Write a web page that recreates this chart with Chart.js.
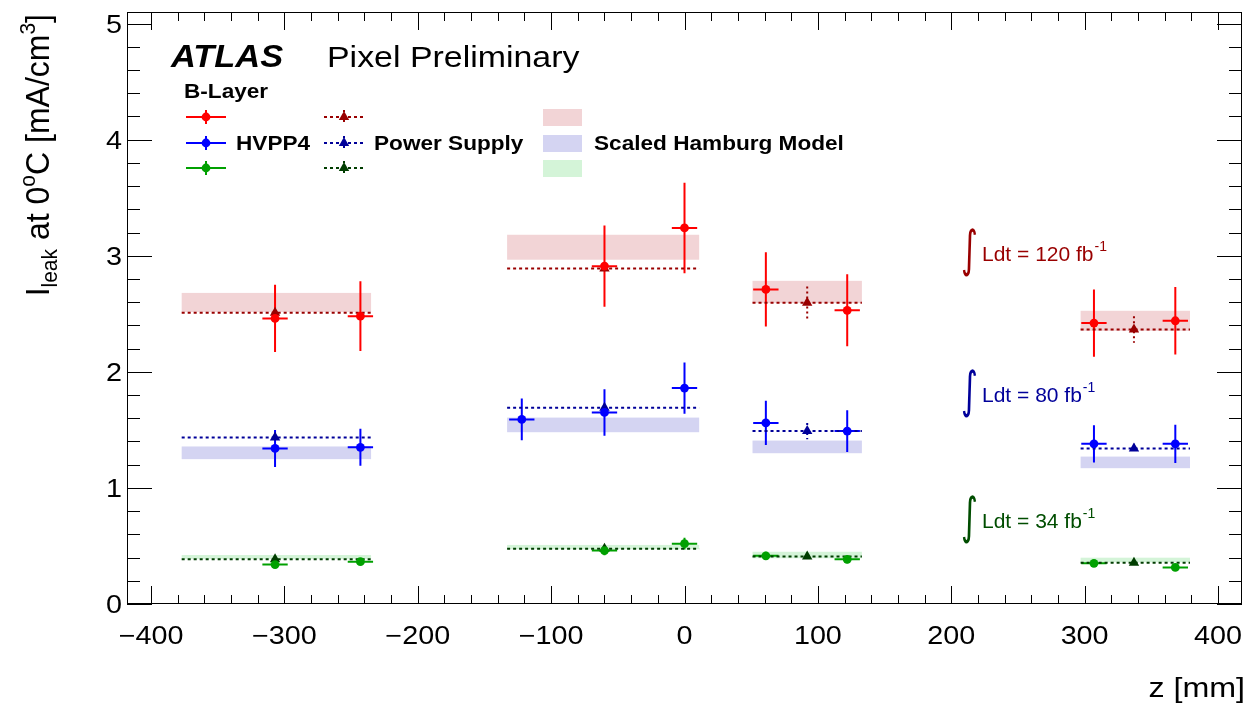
<!DOCTYPE html>
<html><head><meta charset="utf-8">
<script src="https://cdn.jsdelivr.net/npm/chart.js@4.4.1/dist/chart.umd.min.js"></script>
<style>html,body{margin:0;padding:0;background:#fff;}canvas{display:block;}</style>
</head><body>
<canvas id="c" width="1248" height="704"></canvas>
<script>
// ---------- axis ticks ----------
const xTicks = [-400,-300,-200,-100,0,100,200,300,400];
const xTickLabels = ['\u2212400','\u2212300','\u2212200','\u2212100','0','100','200','300','400'];
const yTicks = [0,1,2,3,4,5];
const yTickLabels = ['0','1','2','3','4','5'];

// ---------- module z ranges (mm) ----------
const moduleZMin = [-377,-133,51,297];
const moduleZMax = [-235,11,133,379];

// ---------- HVPP4 measurements ----------
const redZ   = [-307,-243,-60,0,61,122,307,368];
const redY   = [2.46,2.48,2.91,3.24,2.71,2.53,2.42,2.44];
const redErr = [0.29,0.30,0.35,0.39,0.32,0.31,0.29,0.29];
const blueZ   = [-307,-243,-122,-60,0,61,122,307,368];
const blueY   = [1.34,1.35,1.59,1.65,1.86,1.56,1.49,1.38,1.38];
const blueErr = [0.16,0.16,0.18,0.20,0.22,0.19,0.18,0.16,0.165];
const greenZ   = [-307,-243,-60,0,61,122,307,368];
const greenY   = [0.34,0.365,0.46,0.52,0.415,0.385,0.35,0.315];
const greenErr = [0.03,0.03,0.04,0.05,0.035,0.035,0.03,0.03];
const zErr = 9.5;

// ---------- Power Supply ----------
const psZ = [-307,-60,92,337];
const psRedY   = [2.51,2.89,2.595,2.365];
const psRedErr = [0,0,0.14,0.115];
const psBlueY   = [1.435,1.69,1.49,1.34];
const psBlueErr = [0,0,0.07,0.04];
const psGreenY   = [0.385,0.475,0.41,0.355];
const psGreenErr = [0,0,0,0];

// ---------- Scaled Hamburg Model bands ----------
const hamRedLo   = [2.515,2.966,2.592,2.353];
const hamRedHi   = [2.68,3.181,2.784,2.526];
const hamBlueLo  = [1.248,1.48,1.299,1.17];
const hamBlueHi  = [1.357,1.606,1.408,1.27];
const hamGreenLo = [0.388,0.472,0.394,0.359];
const hamGreenHi = [0.422,0.509,0.45,0.399];

// ---------- styles ----------
const C_RED='#ff0000', C_BLUE='#0000ff', C_GREEN='#00a000';
const C_DRED='#990000', C_DBLUE='#000099', C_DGREEN='#003d00';
const B_RED='#f2d4d6', B_BLUE='#d4d4f2', B_GREEN='#d4f4d8';
const FONT='"Liberation Sans", Arial, Helvetica, sans-serif';
const SX = 1.13;

const pts = (z,y)=>z.map((v,i)=>({x:v,y:y[i]}));
const segs = (y)=>{const d=[];y.forEach((v,i)=>{d.push({x:moduleZMin[i],y:v},{x:moduleZMax[i],y:v},{x:moduleZMax[i],y:null});});return d;};

const layers = [
  {z:redZ,y:redY,e:redErr,c:C_RED,ps:psRedY,pse:psRedErr,dc:C_DRED,lo:hamRedLo,hi:hamRedHi,bc:B_RED},
  {z:blueZ,y:blueY,e:blueErr,c:C_BLUE,ps:psBlueY,pse:psBlueErr,dc:C_DBLUE,lo:hamBlueLo,hi:hamBlueHi,bc:B_BLUE},
  {z:greenZ,y:greenY,e:greenErr,c:C_GREEN,ps:psGreenY,pse:psGreenErr,dc:C_DGREEN,lo:hamGreenLo,hi:hamGreenHi,bc:B_GREEN}
];

const datasets = [];
layers.forEach(L=>{
  datasets.push({type:'scatter',data:pts(L.z,L.y),pointStyle:'circle',pointRadius:4.4,backgroundColor:L.c,borderColor:L.c,borderWidth:0});
});
layers.forEach(L=>{
  datasets.push({type:'scatter',data:pts(psZ,L.ps),pointStyle:'triangle',pointRadius:6,backgroundColor:L.dc,borderColor:L.dc,borderWidth:0});
});
layers.forEach(L=>{
  datasets.push({type:'line',data:segs(L.ps),borderColor:L.dc,borderWidth:2,borderDash:[3,3],pointRadius:0,spanGaps:false,fill:false});
});

function txt(ctx,s,x,y,font,color,align,sx){
  ctx.save();ctx.translate(x,y);ctx.scale(sx||SX,1);
  ctx.font=font;ctx.fillStyle=color;ctx.textAlign=align||'left';ctx.textBaseline='alphabetic';
  ctx.fillText(s,0,0);ctx.restore();
}
function tw(ctx,s,font){ctx.save();ctx.font=font;const w=ctx.measureText(s).width;ctx.restore();return w;}

const custom = {
  id:'custom',
  beforeDatasetsDraw(chart){
    const ctx=chart.ctx, xs=chart.scales.x, ys=chart.scales.y;
    ctx.save();
    // bands
    layers.forEach(L=>{
      ctx.fillStyle=L.bc;
      L.lo.forEach((lo,i)=>{
        const x0=xs.getPixelForValue(moduleZMin[i]), x1=xs.getPixelForValue(moduleZMax[i]);
        const y0=ys.getPixelForValue(L.hi[i]), y1=ys.getPixelForValue(lo);
        ctx.fillRect(x0,y0,x1-x0,y1-y0);
      });
    });
    // error bars
    ctx.lineWidth=2;
    layers.forEach(L=>{
      ctx.strokeStyle=L.c;ctx.setLineDash([]);
      L.z.forEach((z,i)=>{
        const px=xs.getPixelForValue(z), py=ys.getPixelForValue(L.y[i]);
        ctx.beginPath();
        ctx.moveTo(px,ys.getPixelForValue(L.y[i]+L.e[i]));ctx.lineTo(px,ys.getPixelForValue(L.y[i]-L.e[i]));
        ctx.moveTo(xs.getPixelForValue(z-zErr),py);ctx.lineTo(xs.getPixelForValue(z+zErr),py);
        ctx.stroke();
      });
      ctx.strokeStyle=L.dc;ctx.setLineDash([2,3]);
      psZ.forEach((z,i)=>{
        if(!L.pse[i])return;
        const px=xs.getPixelForValue(z);
        ctx.beginPath();
        ctx.moveTo(px,ys.getPixelForValue(L.ps[i]+L.pse[i]));ctx.lineTo(px,ys.getPixelForValue(L.ps[i]-L.pse[i]));
        ctx.stroke();
      });
    });
    ctx.restore();
  },
  afterDatasetsDraw(chart){
    const ctx=chart.ctx, xs=chart.scales.x, ys=chart.scales.y, a=chart.chartArea;
    ctx.save();
    // frame
    ctx.strokeStyle='#000';ctx.lineWidth=1;ctx.setLineDash([]);
    ctx.strokeRect(a.left+0.5,a.top+0.5,a.right-a.left-1,a.bottom-a.top-1);
    // ticks
    ctx.beginPath();
    for(let v=-420; v<=420; v+=20){
      if(v<xs.min||v>xs.max)continue;
      const px=Math.round(xs.getPixelForValue(v))+0.5;
      const len=(v%100===0)?18:9;
      ctx.moveTo(px,a.bottom);ctx.lineTo(px,a.bottom-len);
      ctx.moveTo(px,a.top);ctx.lineTo(px,a.top+len);
    }
    for(let k=0;k<=25;k++){
      const v=k*0.2; if(v>ys.max)continue;
      const py=Math.round(ys.getPixelForValue(v))+0.5;
      const len=(k%5===0)?25:13;
      ctx.moveTo(a.left,py);ctx.lineTo(a.left+len,py);
      ctx.moveTo(a.right,py);ctx.lineTo(a.right-len,py);
    }
    ctx.stroke();
    // tick labels
    const tf='25px '+FONT;
    xs.ticks.forEach((t,i)=>{txt(ctx,xTickLabels[i],xs.getPixelForValue(t.value),644,tf,'#000','center',1.15);});
    ys.ticks.forEach((t,i)=>{txt(ctx,yTickLabels[i],122,ys.getPixelForValue(t.value)+9,tf,'#000','right',1.15);});
    // x title
    txt(ctx,'z [mm]',1245,697,'28px '+FONT,'#000','right',1.15);
    // y title (rotated, top-aligned)
    {
      const big='32px '+FONT, small='21px '+FONT;
      const parts=[['I',big,0],['leak',small,8],[' at 0',big,0],['o',small,-13],['C [mA/cm',big,0],['3',small,-13],[']',big,0]];
      let W=0; parts.forEach(p=>W+=tw(ctx,p[0],p[1]));
      ctx.save();
      ctx.translate(49,14);ctx.rotate(-Math.PI/2);ctx.scale(1,1.05);
      ctx.fillStyle='#000';ctx.textAlign='left';ctx.textBaseline='alphabetic';
      let x=-W;
      parts.forEach(p=>{ctx.font=p[1];ctx.fillText(p[0],x,p[2]);x+=ctx.measureText(p[0]).width;});
      ctx.restore();
    }
    // ATLAS label
    txt(ctx,'ATLAS',171,67,'italic bold 31px '+FONT,'#000','left',1.11);
    txt(ctx,'Pixel Preliminary',327,67,'30px '+FONT,'#000','left',1.13);
    // legend
    const lf='bold 20px '+FONT;
    txt(ctx,'B-Layer',184,98,lf,'#000','left',SX);
    const rows=[117,143,168];
    layers.forEach((L,i)=>{
      const y=rows[i];
      ctx.strokeStyle=L.c;ctx.lineWidth=2;ctx.setLineDash([]);
      ctx.beginPath();ctx.moveTo(186,y);ctx.lineTo(226,y);ctx.moveTo(206,y-7);ctx.lineTo(206,y+7);ctx.stroke();
      ctx.fillStyle=L.c;ctx.beginPath();ctx.arc(206,y,4.4,0,Math.PI*2);ctx.fill();
      ctx.strokeStyle=L.dc;ctx.setLineDash([3,3]);
      ctx.beginPath();ctx.moveTo(324,y);ctx.lineTo(364,y);ctx.stroke();
      ctx.setLineDash([2,3]);ctx.beginPath();ctx.moveTo(344,y-7);ctx.lineTo(344,y+7);ctx.stroke();
      ctx.setLineDash([]);ctx.fillStyle=L.dc;ctx.beginPath();
      ctx.moveTo(344,y-6);ctx.lineTo(349.2,y+3);ctx.lineTo(338.8,y+3);ctx.closePath();ctx.fill();
      ctx.fillStyle=L.bc;ctx.fillRect(543,y-8,39,17);
    });
    txt(ctx,'HVPP4',236,150,lf,'#000','left',SX);
    txt(ctx,'Power Supply',374,150,lf,'#000','left',SX);
    txt(ctx,'Scaled Hamburg Model',594,150,lf,'#000','left',SX);
    // luminosity annotations
    const ann=[['120',C_DRED,261],['80','#00009a',402],['34','#004d00',528]];
    ann.forEach(([lum,col,by])=>{
      txt(ctx,'\u222B',961,by+5,'50px "DejaVu Sans"',col,'left',0.65);
      const s='Ldt = '+lum+' fb';
      const f='21px '+FONT;
      txt(ctx,s,982,by,f,col,'left',1.0);
      const w=tw(ctx,s,f);
      txt(ctx,'-1',982+w+1,by-10,'14px '+FONT,col,'left',1.0);
    });
    ctx.restore();
  }
};

new Chart(document.getElementById('c'),{
  type:'scatter',
  data:{datasets},
  options:{
    responsive:false,devicePixelRatio:1,animation:false,
    layout:{padding:{top:12,right:1,left:0,bottom:0}},
    plugins:{legend:{display:false},tooltip:{enabled:false}},
    scales:{
      x:{type:'linear',min:-418,max:418,
         afterBuildTicks:s=>{s.ticks=xTicks.map(v=>({value:v}));},
         afterFit:s=>{s.height=100;},
         ticks:{display:false},grid:{display:false,drawTicks:false},border:{display:false}},
      y:{type:'linear',min:0,max:5.1,
         afterBuildTicks:s=>{s.ticks=yTicks.map(v=>({value:v}));},
         afterFit:s=>{s.width=127;},
         ticks:{display:false},grid:{display:false,drawTicks:false},border:{display:false}}
    }
  },
  plugins:[custom]
});
</script>
</body></html>
